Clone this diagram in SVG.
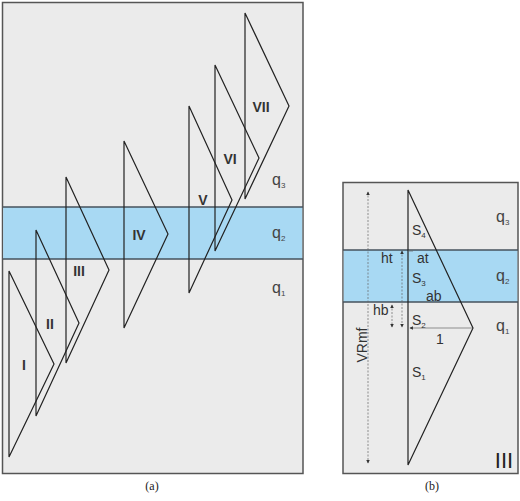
<svg xmlns="http://www.w3.org/2000/svg" width="520" height="501" viewBox="0 0 520 501">
<defs>
<style>
.panel{fill:#ebebeb;stroke:#555;stroke-width:1.5}
.band{fill:#a8d9f3}
.bline{stroke:#46525c;stroke-width:1.5;fill:none}
.tri{fill:none;stroke:#222;stroke-width:1.2}
.rn{font-family:"Liberation Sans",Arial,sans-serif;font-size:14px;font-weight:bold;fill:#333;text-anchor:middle}
.q{font-family:"Liberation Sans",Arial,sans-serif;font-size:16px;fill:#444}
.qs{font-size:8px}
.lb{font-family:"Liberation Sans",Arial,sans-serif;font-size:14px;fill:#333}
.cap{font-family:"Liberation Serif","Times New Roman",serif;font-size:12px;fill:#222;text-anchor:middle}
.dim{stroke:#666;stroke-width:0.7;fill:none}
</style>
<marker id="ah" viewBox="0 0 6 6" refX="5" refY="3" markerWidth="5" markerHeight="5" orient="auto-start-reverse"><path d="M0,0 L6,3 L0,6 z" fill="#333"/></marker>
</defs>
<g id="panel-a">
<rect class="panel" x="2.5" y="2.5" width="300.5" height="471"/>
<rect class="band" x="3.2" y="207" width="299" height="52"/>
<line class="bline" x1="3" y1="207" x2="303" y2="207"/>
<line class="bline" x1="3" y1="259" x2="303" y2="259"/>
</g>
<g id="tri-I"><path class="tri" d="M9,271 L9,457 L54,364 Z"/><text class="rn" x="24" y="370">I</text></g>
<g id="tri-II"><path class="tri" d="M36,230 L36,416 L79,323 Z"/><text class="rn" x="50" y="329">II</text></g>
<g id="tri-III"><path class="tri" d="M66,177 L66,363 L109,270 Z"/><text class="rn" x="79" y="276">III</text></g>
<g id="tri-IV"><path class="tri" d="M124,141 L124,328 L168,234 Z"/><text class="rn" x="139" y="240">IV</text></g>
<g id="tri-V"><path class="tri" d="M189,106 L189,293 L232,200 Z"/><text class="rn" x="203" y="205">V</text></g>
<g id="tri-VI"><path class="tri" d="M215,65 L215,251 L259,158 Z"/><text class="rn" x="230" y="164">VI</text></g>
<g id="tri-VII"><path class="tri" d="M245,13 L245,199 L289,106 Z"/><text class="rn" x="261" y="112">VII</text></g>
<g id="q-labels-a">
<text class="q" x="272" y="185">q<tspan class="qs" dy="3">3</tspan></text>
<text class="q" x="272" y="238">q<tspan class="qs" dy="3">2</tspan></text>
<text class="q" x="272" y="293">q<tspan class="qs" dy="3">1</tspan></text>
</g>
<g id="panel-b">
<rect class="panel" x="343" y="182.5" width="175" height="291"/>
<rect class="band" x="343.7" y="250" width="173.6" height="52"/>
<line class="bline" x1="343" y1="250" x2="518" y2="250"/>
<line class="bline" x1="343" y1="302" x2="518" y2="302"/>
</g>
<g id="tri-b"><path class="tri" d="M408,190 L408,465 L473,328 Z" stroke-width="1.4"/></g>
<g id="connectors">
<line class="dim" x1="368" y1="192" x2="368" y2="463" stroke-dasharray="2,1.5" marker-start="url(#ah)" marker-end="url(#ah)"/>
<line class="dim" x1="402" y1="251" x2="402" y2="327" stroke-dasharray="2,1.5" marker-start="url(#ah)" marker-end="url(#ah)"/>
<line class="dim" x1="392" y1="305" x2="392" y2="327" stroke-dasharray="2,1.5" marker-start="url(#ah)" marker-end="url(#ah)"/>
<line class="dim" x1="410" y1="328" x2="472" y2="328" marker-start="url(#ah)"/>
<line class="dim" x1="408" y1="251" x2="413" y2="251"/>
</g>
<g id="labels-b">
<text class="lb" x="412" y="235">S<tspan class="qs" dy="3">4</tspan></text>
<text class="lb" x="412" y="283">S<tspan class="qs" dy="3">3</tspan></text>
<text class="lb" x="412" y="325">S<tspan class="qs" dy="3">2</tspan></text>
<text class="lb" x="412" y="377">S<tspan class="qs" dy="3">1</tspan></text>
<text class="lb" x="417" y="263">at</text>
<text class="lb" x="426" y="301">ab</text>
<text class="lb" x="381" y="263">ht</text>
<text class="lb" x="373" y="315">hb</text>
<text class="lb" x="436" y="344" font-size="15">1</text>
<text class="lb" x="0" y="0" transform="translate(367,345) rotate(-90)" text-anchor="middle">VRmf</text>
<text class="q" x="496" y="222" font-size="11">q<tspan class="qs" dy="3">3</tspan></text>
<text class="q" x="496" y="281" font-size="11">q<tspan class="qs" dy="3">2</tspan></text>
<text class="q" x="496" y="331" font-size="11">q<tspan class="qs" dy="3">1</tspan></text>
<text x="504" y="468" font-family="Liberation Sans,Arial,sans-serif" font-size="22" fill="#222" text-anchor="middle">III</text>
</g>
<g id="captions">
<text class="cap" x="152" y="490">(a)</text>
<text class="cap" x="432" y="490">(b)</text>
</g>
</svg>
